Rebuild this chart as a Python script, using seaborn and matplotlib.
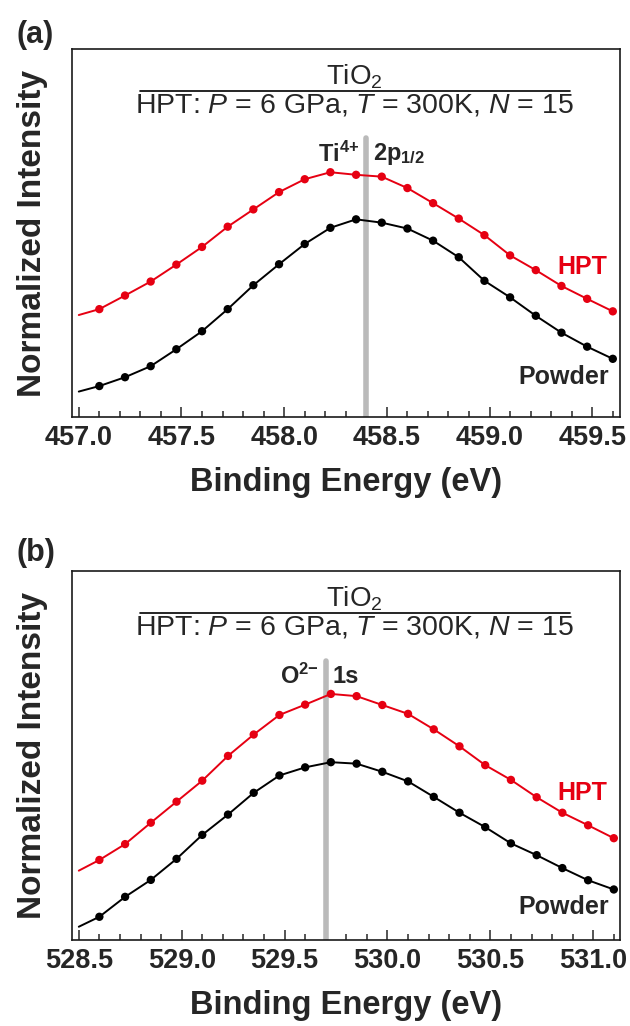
import pandas as pd
import matplotlib
matplotlib.use('Agg')
import matplotlib.pyplot as plt
from matplotlib.ticker import MultipleLocator, FormatStrFormatter
import seaborn as sns

# Ti 2p (panel a): binding energies of the sampled points and normalized intensities
ti_energy = [457.0, 457.1, 457.225, 457.35, 457.475, 457.6, 457.725, 457.85, 457.975, 458.1, 458.225,
             458.35, 458.475, 458.6, 458.725, 458.85, 458.975, 459.1, 459.225, 459.35, 459.475, 459.6]
ti_hpt = [0.277, 0.293, 0.330, 0.368, 0.414, 0.462, 0.517, 0.564, 0.611, 0.646, 0.665,
          0.658, 0.653, 0.622, 0.581, 0.539, 0.494, 0.439, 0.399, 0.356, 0.321, 0.287]
ti_powder = [0.069, 0.084, 0.108, 0.138, 0.184, 0.233, 0.293, 0.358, 0.415, 0.470, 0.514,
             0.537, 0.528, 0.512, 0.479, 0.434, 0.370, 0.325, 0.275, 0.229, 0.191, 0.158]
ti_peak = 458.40

# O 1s (panel b)
o_energy = [528.5, 528.6, 528.725, 528.85, 528.975, 529.1, 529.225, 529.35, 529.475, 529.6, 529.725,
            529.85, 529.975, 530.1, 530.225, 530.35, 530.475, 530.6, 530.725, 530.85, 530.975, 531.1]
o_hpt = [0.188, 0.217, 0.260, 0.318, 0.375, 0.432, 0.499, 0.557, 0.610, 0.638, 0.667,
         0.661, 0.637, 0.613, 0.571, 0.525, 0.474, 0.434, 0.387, 0.345, 0.311, 0.276]
o_powder = [0.036, 0.063, 0.117, 0.163, 0.220, 0.285, 0.340, 0.399, 0.446, 0.468, 0.482,
            0.478, 0.456, 0.430, 0.388, 0.345, 0.306, 0.262, 0.230, 0.195, 0.162, 0.137]
o_peak = 529.70

sns.set_style('ticks')
plt.rcParams['font.family'] = ['Liberation Sans', 'DejaVu Sans']
plt.rcParams['mathtext.fontset'] = 'custom'
plt.rcParams['mathtext.rm'] = 'Liberation Sans'
plt.rcParams['mathtext.it'] = 'Liberation Sans:italic'
plt.rcParams['mathtext.bf'] = 'Liberation Sans:bold'

fig = plt.figure(figsize=(6.3, 10.26), dpi=100)
ax_a = fig.add_axes([0.1143, 0.5936, 0.8698, 0.3587])
ax_b = fig.add_axes([0.1143, 0.0838, 0.8698, 0.3596])


def draw_panel(ax, energy, hpt, powder, peak, xlim, ion, orbital, hpt_y, powder_y):
    df = pd.DataFrame({'energy': energy, 'HPT': hpt, 'Powder': powder})
    pts = df.iloc[1:]  # first row is only where the curve meets the frame
    ax.axvline(peak, ymin=0, ymax=0.757, color='#bababa', linewidth=4, zorder=1)
    for col, c in [('HPT', '#e60012'), ('Powder', 'black')]:
        sns.lineplot(data=df, x='energy', y=col, color=c, linewidth=1.4, sort=False, ax=ax, zorder=2)
        sns.scatterplot(data=pts, x='energy', y=col, color=c, s=36, edgecolor='none', ax=ax, zorder=3)

    ax.set_xlim(*xlim)
    ax.set_ylim(0, 1)
    ax.set_yticks([])
    ax.xaxis.set_major_locator(MultipleLocator(0.5))
    ax.xaxis.set_minor_locator(MultipleLocator(0.1))
    ax.xaxis.set_major_formatter(FormatStrFormatter('%.1f'))
    ax.tick_params(axis='x', which='major', direction='in', length=7, width=1.1, pad=6,
                   labelsize=19.5)
    ax.tick_params(axis='x', which='minor', direction='in', length=4, width=1.1)
    for lab in ax.get_xticklabels():
        lab.set_fontweight('bold')
    for sp in ax.spines.values():
        sp.set_linewidth(1.2)
        sp.set_color('#1a1a1a')

    ax.set_xlabel('Binding Energy (eV)', fontsize=23.5, fontweight='bold', labelpad=11)
    ax.set_ylabel('Normalized Intensity', fontsize=24, fontweight='bold', labelpad=17)

    # header
    ax.text(0.516, 0.924, r'TiO$_\mathregular{2}$', transform=ax.transAxes,
            ha='center', va='center', fontsize=20)
    ax.plot([0.124, 0.909], [0.886, 0.886], transform=ax.transAxes, color='black', linewidth=1.2)
    ax.text(0.516, 0.846, r'HPT: $P$ = 6 GPa, $T$ = 300K, $N$ = 15', transform=ax.transAxes,
            ha='center', va='center', fontsize=20.5)

    trans = ax.get_xaxis_transform()
    dx = (xlim[1] - xlim[0]) * 0.013
    ax.text(peak - dx, 0.715, ion, transform=trans, ha='right', va='center',
            fontsize=17, fontweight='bold')
    ax.text(peak + dx, 0.715, orbital, transform=trans, ha='left', va='center',
            fontsize=17, fontweight='bold')

    ax.text(0.976, hpt_y, 'HPT', transform=ax.transAxes, ha='right', va='center',
            fontsize=18, fontweight='bold', color='#e60012')
    ax.text(0.98, powder_y, 'Powder', transform=ax.transAxes, ha='right', va='center',
            fontsize=18, fontweight='bold')


draw_panel(ax_a, ti_energy, ti_hpt, ti_powder, ti_peak, (456.967, 459.635),
           r'Ti$^{\mathbf{4{+}}}$', r'2p$_{\mathbf{1/2}}$', 0.408, 0.109)
draw_panel(ax_b, o_energy, o_hpt, o_powder, o_peak, (528.467, 531.13),
           r'O$^{\mathbf{2{-}}}$', '1s', 0.398, 0.089)

fig.text(0.026, 0.966, '(a)', fontsize=22, fontweight='bold', va='center', ha='left')
fig.text(0.026, 0.461, '(b)', fontsize=22, fontweight='bold', va='center', ha='left')

fig.savefig('out.png', dpi=100)
